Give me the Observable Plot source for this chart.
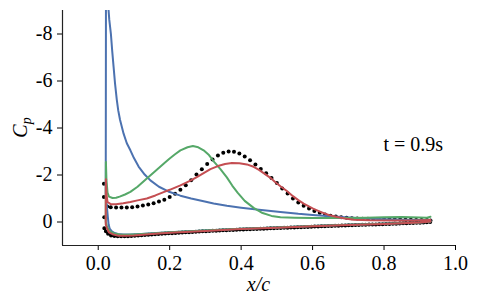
<!DOCTYPE html>
<html><head><meta charset="utf-8">
<script src="https://cdn.jsdelivr.net/npm/d3@7"></script>
<script src="https://cdn.jsdelivr.net/npm/@observablehq/plot@0.6"></script>
<style>body{margin:0;background:#fff}</style>
</head><body><div id="chart"></div>
<script>
// ---- data (x/c, Cp) ----
const xTicks = [0.0, 0.2, 0.4, 0.6, 0.8, 1.0];
const yTicks = [-8, -6, -4, -2, 0];
const annotation = "t = 0.9s";

const blueLower = [[0.021,-1.2],[0.024,-0.7],[0.027,-0.2],[0.029,0.1],[0.032,0.28],[0.038,0.4],[0.046,0.47],[0.055,0.51],[0.07,0.53],[0.09,0.53],[0.12,0.51],[0.15,0.48],[0.2,0.44],[0.3,0.36],[0.4,0.29],[0.5,0.23],[0.6,0.17],[0.7,0.12],[0.8,0.07],[0.9,0.02],[0.93,-0.02]];
const blueUpper = [[0.021,-1.2],[0.0213,-5],[0.0216,-9],[0.0235,-10.6],[0.026,-10.2],[0.028,-9.2],[0.031,-8.6],[0.0355,-8.0],[0.039,-7.3],[0.043,-6.6],[0.047,-5.9],[0.052,-5.2],[0.056,-4.75],[0.061,-4.35],[0.066,-4.05],[0.071,-3.76],[0.08,-3.35],[0.09,-3.05],[0.10,-2.72],[0.113,-2.36],[0.13,-2.02],[0.146,-1.77],[0.17,-1.5],[0.196,-1.3],[0.23,-1.12],[0.26,-1.0],[0.295,-0.88],[0.323,-0.79],[0.36,-0.69],[0.40,-0.61],[0.45,-0.52],[0.51,-0.43],[0.56,-0.35],[0.60,-0.3],[0.65,-0.24],[0.70,-0.19],[0.75,-0.15],[0.80,-0.12],[0.85,-0.1],[0.90,-0.09],[0.93,-0.08]];

const greenLower = [[0.021,0.0],[0.024,0.15],[0.028,0.3],[0.035,0.42],[0.045,0.49],[0.06,0.53],[0.08,0.54],[0.1,0.53],[0.15,0.49],[0.2,0.44],[0.3,0.36],[0.4,0.29],[0.5,0.23],[0.6,0.17],[0.7,0.12],[0.8,0.07],[0.9,0.02],[0.93,-0.02]];
const greenUpper = [[0.021,0.0],[0.0212,-1.5],[0.0215,-2.55],[0.023,-1.8],[0.026,-1.25],[0.03,-1.08],[0.04,-1.02],[0.05,-1.03],[0.06,-1.08],[0.075,-1.17],[0.09,-1.28],[0.11,-1.5],[0.136,-1.85],[0.16,-2.17],[0.183,-2.48],[0.20,-2.7],[0.215,-2.88],[0.23,-3.05],[0.25,-3.18],[0.265,-3.23],[0.28,-3.18],[0.295,-3.05],[0.31,-2.85],[0.325,-2.55],[0.342,-2.25],[0.36,-1.9],[0.375,-1.55],[0.39,-1.25],[0.41,-0.9],[0.435,-0.6],[0.46,-0.38],[0.485,-0.26],[0.51,-0.2],[0.55,-0.18],[0.6,-0.17],[0.65,-0.17],[0.7,-0.17],[0.75,-0.18],[0.8,-0.2],[0.85,-0.21],[0.9,-0.19],[0.92,-0.18],[0.93,-0.22]];

const redLower = [[0.021,0.1],[0.024,0.27],[0.03,0.44],[0.04,0.52],[0.055,0.58],[0.075,0.59],[0.1,0.57],[0.15,0.51],[0.2,0.46],[0.3,0.38],[0.4,0.3],[0.5,0.24],[0.6,0.18],[0.7,0.13],[0.8,0.08],[0.9,0.02],[0.93,-0.02]];
const redUpper = [[0.021,0.1],[0.0212,-1.0],[0.0215,-1.82],[0.023,-1.2],[0.026,-0.85],[0.035,-0.76],[0.05,-0.76],[0.07,-0.8],[0.09,-0.85],[0.11,-0.92],[0.136,-1.0],[0.16,-1.13],[0.183,-1.27],[0.2,-1.37],[0.23,-1.56],[0.258,-1.76],[0.276,-1.91],[0.295,-2.08],[0.314,-2.25],[0.335,-2.38],[0.355,-2.47],[0.374,-2.51],[0.395,-2.5],[0.416,-2.45],[0.435,-2.35],[0.45,-2.22],[0.463,-2.08],[0.482,-1.88],[0.495,-1.7],[0.51,-1.52],[0.528,-1.32],[0.545,-1.1],[0.56,-0.93],[0.575,-0.78],[0.6,-0.58],[0.622,-0.43],[0.645,-0.3],[0.669,-0.21],[0.69,-0.15],[0.715,-0.1],[0.76,-0.07],[0.82,-0.06],[0.88,-0.06],[0.93,-0.08]];

const expUpper = [[0.016,-1.63],[0.016,-1.06],[0.017,-0.2],[0.025,-0.66],[0.035,-0.63],[0.05,-0.62],[0.065,-0.62],[0.08,-0.62],[0.095,-0.63],[0.11,-0.66],[0.125,-0.7],[0.14,-0.75],[0.155,-0.8],[0.17,-0.87],[0.185,-0.95],[0.2,-1.06],[0.215,-1.2],[0.23,-1.37],[0.245,-1.56],[0.26,-1.78],[0.275,-2.02],[0.29,-2.25],[0.305,-2.47],[0.32,-2.66],[0.335,-2.83],[0.35,-2.95],[0.365,-3.0],[0.38,-2.99],[0.395,-2.91],[0.41,-2.79],[0.425,-2.63],[0.44,-2.45],[0.455,-2.26],[0.47,-2.07],[0.485,-1.87],[0.5,-1.66],[0.515,-1.43],[0.53,-1.21],[0.545,-1.0],[0.56,-0.83],[0.575,-0.69],[0.59,-0.57],[0.605,-0.47],[0.62,-0.39],[0.635,-0.32],[0.65,-0.27],[0.665,-0.23],[0.68,-0.2],[0.695,-0.18],[0.71,-0.16],[0.725,-0.15],[0.74,-0.14],[0.755,-0.14],[0.77,-0.13],[0.785,-0.13],[0.8,-0.12],[0.815,-0.12],[0.83,-0.11],[0.845,-0.11],[0.86,-0.1],[0.875,-0.1],[0.89,-0.09],[0.905,-0.09],[0.92,-0.08],[0.93,-0.06]];
const expLower = [[0.017,0.27],[0.024,0.47],[0.035,0.57],[0.05,0.61],[0.075,0.61],[0.1,0.59],[0.15,0.53],[0.2,0.48],[0.3,0.39],[0.4,0.32],[0.5,0.26],[0.6,0.2],[0.7,0.14],[0.8,0.09],[0.9,0.03],[0.93,0.0]];

const seriesColors = ["#4C72B0", "#55A868", "#C44E52"];
const seriesData = [[blueLower, blueUpper], [greenLower, greenUpper], [redLower, redUpper]];

// pick an installed serif face (Times-like)
function pickFont(cands) {
  const ctx = document.createElement("canvas").getContext("2d");
  const s = "0.123456789 t=s mmmWWiil";
  for (const base of ["monospace", "sans-serif"]) {
    ctx.font = "40px " + base;
    const w0 = ctx.measureText(s).width;
    for (const c of cands) {
      ctx.font = `40px "${c}", ${base}`;
      if (Math.abs(ctx.measureText(s).width - w0) > 0.5) return `"${c}"`;
    }
  }
  return "serif";
}
const serifFont = pickFont(["Liberation Serif", "Tinos", "Times New Roman", "Nimbus Roman", "Nimbus Roman No9 L", "FreeSerif", "DejaVu Serif", "Noto Serif", "Times"]);
const fontStack = serifFont + ", serif";

// closed path around the airfoil: lower surface TE->LE, then upper LE->TE
const loops = seriesData.map(([lo, up]) => [...lo.slice().reverse(), ...up]);

const X = d => d[0], Y = d => d[1];

const plot = Plot.plot({
  width: 478, height: 307,
  marginLeft: 62, marginRight: 23, marginTop: 10, marginBottom: 62,
  style: {fontFamily: fontStack, fontSize: "20px", color: "#000", background: "#fff"},
  x: {domain: [-0.1, 1.0], ticks: xTicks, tickFormat: d3.format(".1f"), tickSize: 5, tickPadding: 5.5, label: null},
  y: {domain: [-9, 1], reverse: true, ticks: yTicks, tickFormat: d => String(d), tickSize: 5, tickPadding: 5, label: null},
  marks: [
    Plot.line(expLower, {x: X, y: Y, stroke: "#000", strokeWidth: 4, strokeDasharray: "0 3.4", strokeLinecap: "round", clip: true}),
    Plot.dot(expUpper, {x: X, y: Y, r: 2, fill: "#000", stroke: "none", clip: true}),
    ...loops.map((pts, i) => Plot.line(pts, {x: X, y: Y, stroke: seriesColors[i], strokeWidth: 2, clip: true})),
    Plot.ruleX([-0.1], {stroke: "#222", strokeWidth: 1.2}),
    Plot.ruleY([1], {stroke: "#222", strokeWidth: 1.2}),
    Plot.text([annotation], {x: 0.882, y: -3.28, text: d => d, textAnchor: "middle", fontSize: 20, fill: "#000"})
  ]
});

const svg = d3.select(plot);
svg.append("text")
  .attr("x", 258.5).attr("y", 291)
  .attr("text-anchor", "middle")
  .attr("font-style", "italic")
  .attr("font-size", 20)
  .attr("fill", "#000")
  .text("x/c");
const cp = svg.append("text")
  .attr("transform", "translate(27,127.5) rotate(-90)")
  .attr("text-anchor", "middle")
  .attr("font-style", "italic")
  .attr("font-size", 20)
  .attr("fill", "#000");
cp.append("tspan").text("C");
cp.append("tspan").attr("font-size", 14).attr("dy", 4).text("p");
svg.selectAll("text").style("font-family", fontStack);

document.getElementById("chart").appendChild(plot);
</script>
</body></html>
